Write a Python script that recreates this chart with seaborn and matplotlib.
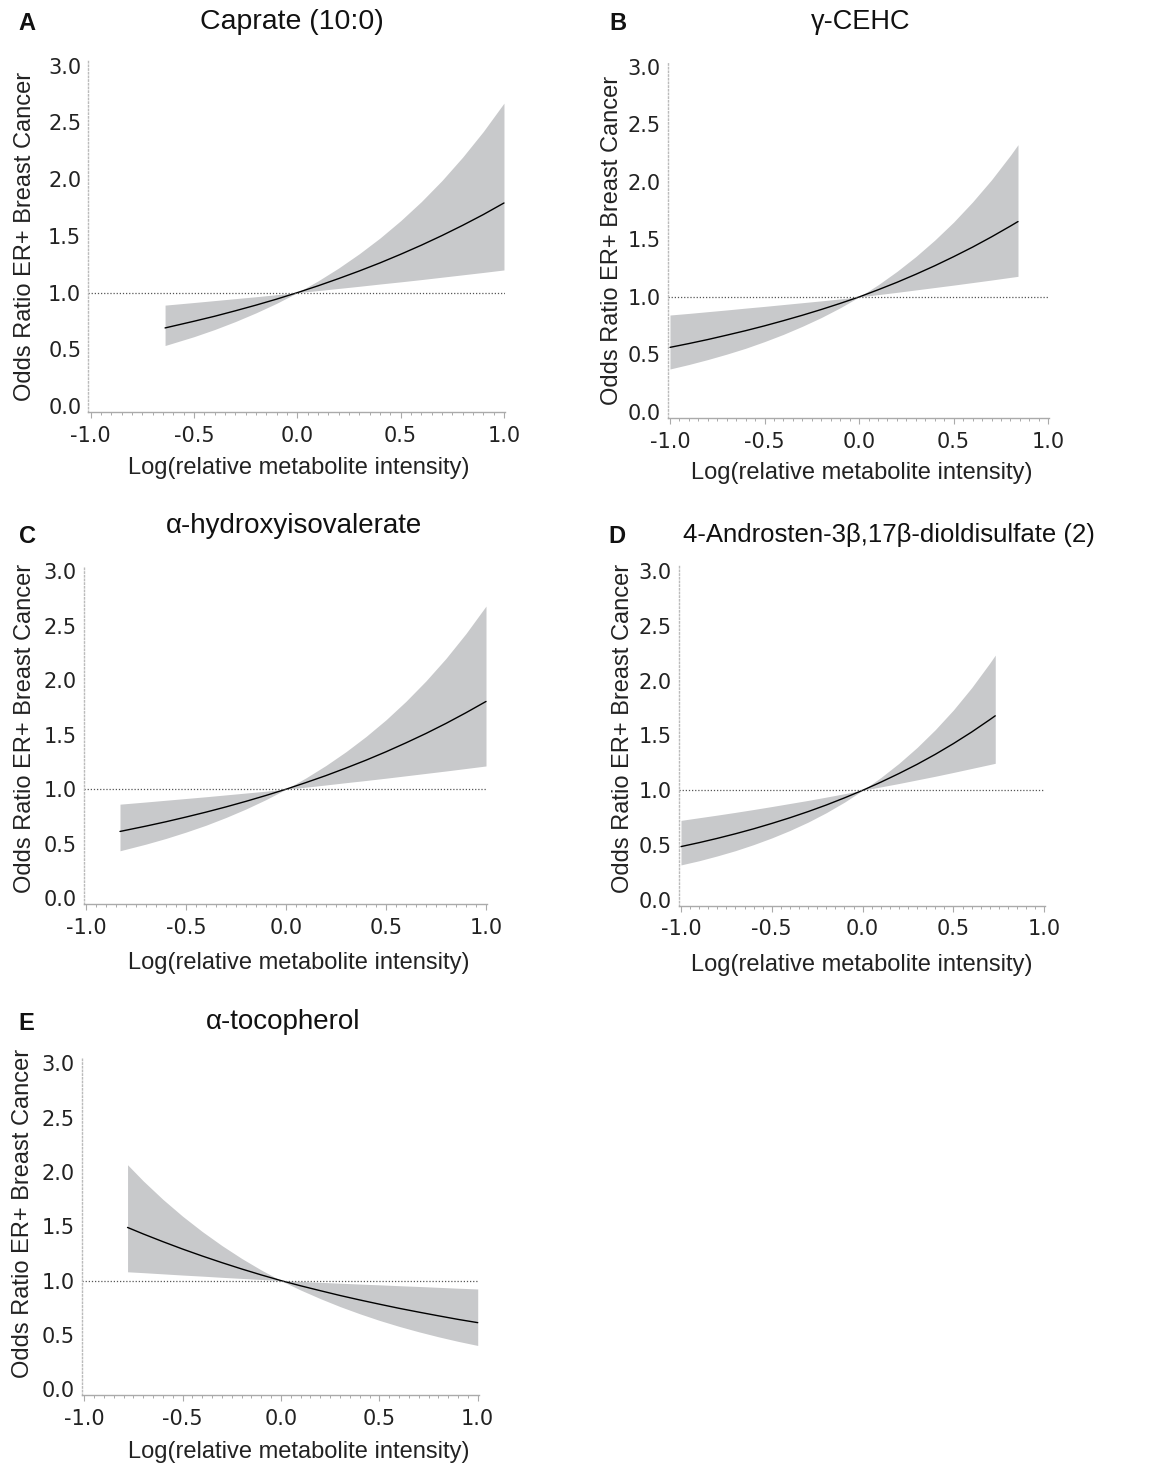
import matplotlib
matplotlib.use('Agg')
import matplotlib.pyplot as plt
from matplotlib.ticker import MultipleLocator
import seaborn as sns

# values (x, odds ratio, lower and upper band)
caprate_x = [-0.64, -0.5, -0.4, -0.3, -0.2, -0.1, 0.0, 0.1, 0.2, 0.3, 0.4, 0.5, 0.6, 0.7, 0.8, 0.9, 1.0]
caprate_or = [0.689, 0.748, 0.792, 0.840, 0.890, 0.943, 1.0, 1.060, 1.124, 1.191, 1.262, 1.338, 1.418, 1.503, 1.593, 1.688, 1.790]
caprate_lo = [0.534, 0.612, 0.675, 0.745, 0.822, 0.906, 1.0, 1.018, 1.037, 1.056, 1.076, 1.095, 1.115, 1.136, 1.157, 1.178, 1.200]
caprate_hi = [0.890, 0.913, 0.930, 0.947, 0.964, 0.982, 1.0, 1.103, 1.217, 1.343, 1.481, 1.634, 1.802, 1.988, 2.194, 2.420, 2.670]

cehc_x = [-1.0, -0.9, -0.8, -0.7, -0.6, -0.5, -0.4, -0.3, -0.2, -0.1, 0.0, 0.1, 0.2, 0.3, 0.4, 0.5, 0.6, 0.7, 0.8, 0.84]
cehc_or = [0.562, 0.595, 0.630, 0.668, 0.707, 0.749, 0.794, 0.841, 0.891, 0.944, 1.0, 1.062, 1.127, 1.197, 1.271, 1.350, 1.433, 1.522, 1.616, 1.655]
cehc_lo = [0.374, 0.413, 0.456, 0.503, 0.554, 0.612, 0.675, 0.745, 0.821, 0.906, 1.0, 1.020, 1.040, 1.061, 1.082, 1.103, 1.125, 1.147, 1.170, 1.179]
cehc_hi = [0.843, 0.857, 0.872, 0.887, 0.903, 0.918, 0.934, 0.950, 0.966, 0.983, 1.0, 1.105, 1.222, 1.351, 1.494, 1.651, 1.826, 2.018, 2.231, 2.323]

hiv_x = [-0.83, -0.7, -0.6, -0.5, -0.4, -0.3, -0.2, -0.1, 0.0, 0.1, 0.2, 0.3, 0.4, 0.5, 0.6, 0.7, 0.8, 0.9, 1.0]
hiv_or = [0.613, 0.662, 0.702, 0.745, 0.790, 0.838, 0.889, 0.943, 1.0, 1.061, 1.125, 1.194, 1.266, 1.343, 1.425, 1.511, 1.603, 1.701, 1.804]
hiv_lo = [0.436, 0.497, 0.549, 0.607, 0.670, 0.741, 0.819, 0.905, 1.0, 1.019, 1.039, 1.060, 1.080, 1.101, 1.123, 1.145, 1.167, 1.190, 1.213]
hiv_hi = [0.863, 0.883, 0.899, 0.915, 0.931, 0.948, 0.965, 0.982, 1.0, 1.104, 1.218, 1.344, 1.483, 1.636, 1.806, 1.993, 2.199, 2.427, 2.678]

andro_x = [-1.0, -0.9, -0.8, -0.7, -0.6, -0.5, -0.4, -0.3, -0.2, -0.1, 0.0, 0.1, 0.2, 0.3, 0.4, 0.5, 0.6, 0.7, 0.73]
andro_or = [0.487, 0.523, 0.562, 0.604, 0.649, 0.698, 0.750, 0.806, 0.866, 0.931, 1.0, 1.074, 1.153, 1.237, 1.328, 1.426, 1.531, 1.644, 1.679]
andro_lo = [0.320, 0.358, 0.402, 0.450, 0.505, 0.566, 0.634, 0.710, 0.796, 0.892, 1.0, 1.031, 1.062, 1.095, 1.128, 1.163, 1.199, 1.235, 1.246]
andro_hi = [0.726, 0.750, 0.774, 0.799, 0.825, 0.852, 0.880, 0.908, 0.938, 0.969, 1.0, 1.116, 1.246, 1.391, 1.553, 1.733, 1.935, 2.160, 2.232]

toco_x = [-0.78, -0.7, -0.6, -0.5, -0.4, -0.3, -0.2, -0.1, 0.0, 0.1, 0.2, 0.3, 0.4, 0.5, 0.6, 0.7, 0.8, 0.9, 1.0]
toco_or = [1.489, 1.429, 1.358, 1.290, 1.226, 1.165, 1.107, 1.052, 1.0, 0.952, 0.907, 0.863, 0.822, 0.783, 0.745, 0.710, 0.676, 0.643, 0.613]
toco_lo = [1.081, 1.073, 1.062, 1.051, 1.041, 1.030, 1.020, 1.010, 1.0, 0.913, 0.834, 0.761, 0.695, 0.634, 0.579, 0.529, 0.483, 0.441, 0.403]
toco_hi = [2.066, 1.917, 1.747, 1.592, 1.451, 1.322, 1.204, 1.097, 1.0, 0.992, 0.984, 0.976, 0.968, 0.961, 0.953, 0.946, 0.938, 0.930, 0.923]

titles = ['Caprate (10:0)', 'γ-CEHC', 'α-hydroxyisovalerate',
          '4-Androsten-3β,17β-dioldisulfate (2)', 'α-tocopherol']
letters = ['A', 'B', 'C', 'D', 'E']
y_ticks = [0.0, 0.5, 1.0, 1.5, 2.0, 2.5, 3.0]
x_ticks = [-1.0, -0.5, 0.0, 0.5, 1.0]

sns.set_style('white')
plt.rcParams['font.family'] = ['DejaVu Sans']

W, H = 1158, 1466
fig = plt.figure(figsize=(W / 100, H / 100), dpi=100)


def fx(px):
    return px / W


def fy(py):
    return 1 - py / H


# layout in pixels: axes box (left, top, right, bottom), letter, title, ylabel, xlabel centres
layout = [
    dict(box=(88.2, 60, 505, 411.8), letter=(27, 23), title=(292, 22), tsize=20.5, ylab=(25, 236), xlab=(299, 468)),
    dict(box=(667.7, 61, 1049.2, 417.8), letter=(618, 23), title=(861, 22), tsize=19.5, ylab=(612, 240), xlab=(862, 473)),
    dict(box=(83.6, 565.5, 487, 903.8), letter=(27, 536), title=(294, 526), tsize=20, ylab=(25, 728), xlab=(299, 963)),
    dict(box=(678.8, 565.4, 1045.2, 905.5), letter=(617, 537), title=(889, 535), tsize=18.5, ylab=(623, 728), xlab=(862, 965)),
    dict(box=(81.9, 1057.8, 478.7, 1394.7), letter=(26, 1023), title=(283, 1022), tsize=20, ylab=(23, 1213), xlab=(299, 1452)),
]
series = [
    (caprate_x, caprate_or, caprate_lo, caprate_hi),
    (cehc_x, cehc_or, cehc_lo, cehc_hi),
    (hiv_x, hiv_or, hiv_lo, hiv_hi),
    (andro_x, andro_or, andro_lo, andro_hi),
    (toco_x, toco_or, toco_lo, toco_hi),
]

for i in range(5):
    l, t, r, b = layout[i]['box']
    ax = fig.add_axes([fx(l), fy(b), (r - l) / W, (b - t) / H])
    x, orr, lo, hi = series[i]

    ax.fill_between(x, lo, hi, color='#c8c9cb', linewidth=0)
    sns.lineplot(x=x, y=orr, ax=ax, color='black', linewidth=1.0)
    ax.axhline(1.0, color='#555555', linestyle=(0, (1, 1.5)), linewidth=0.9)

    ax.set_xlim(-1.012, 1.005)
    ax.set_ylim(-0.05, 3.05)
    ax.set_xticks(x_ticks)
    ax.set_xticklabels([f'{v:.1f}' for v in x_ticks])
    ax.set_yticks(y_ticks)
    ax.set_yticklabels([f'{v:.1f}' for v in y_ticks])
    ax.xaxis.set_minor_locator(MultipleLocator(0.05))
    ax.tick_params(axis='x', which='both', bottom=True)
    ax.tick_params(axis='x', which='major', direction='out', length=4, width=0.8,
                   color='#aaaaaa', pad=6, labelsize=15, labelcolor='#222222')
    ax.tick_params(axis='x', which='minor', direction='out', length=2.5, width=0.7,
                   color='#aaaaaa')
    ax.tick_params(axis='y', length=0, pad=5, labelsize=15, labelcolor='#222222')

    for s in ['top', 'right']:
        ax.spines[s].set_visible(False)
    ax.spines['bottom'].set_color('#aaaaaa')
    ax.spines['bottom'].set_linewidth(1.0)
    ax.spines['left'].set_color('#bbbbbb')
    ax.spines['left'].set_linestyle(':')
    ax.spines['left'].set_linewidth(1.0)

    ax.set_ylabel('Odds Ratio ER+ Breast Cancer', fontsize=17, family='Liberation Sans',
                  color='#222222', va='center')
    ax.yaxis.set_label_coords(fx(layout[i]['ylab'][0]), fy(layout[i]['ylab'][1]),
                              transform=fig.transFigure)
    ax.set_xlabel('Log(relative metabolite intensity)', fontsize=17, family='Liberation Sans',
                  color='#222222', va='center')
    ax.xaxis.set_label_coords(fx(layout[i]['xlab'][0]), fy(layout[i]['xlab'][1]),
                              transform=fig.transFigure)

    lx, ly = layout[i]['letter']
    fig.text(fx(lx), fy(ly), letters[i], fontsize=17, fontweight='bold',
             family='Liberation Sans', ha='center', va='center', color='#111111')
    tx, ty = layout[i]['title']
    fig.text(fx(tx), fy(ty), titles[i], fontsize=layout[i]['tsize'], family='Liberation Sans',
             ha='center', va='center', color='#111111')

fig.savefig('out.png', dpi=100)
